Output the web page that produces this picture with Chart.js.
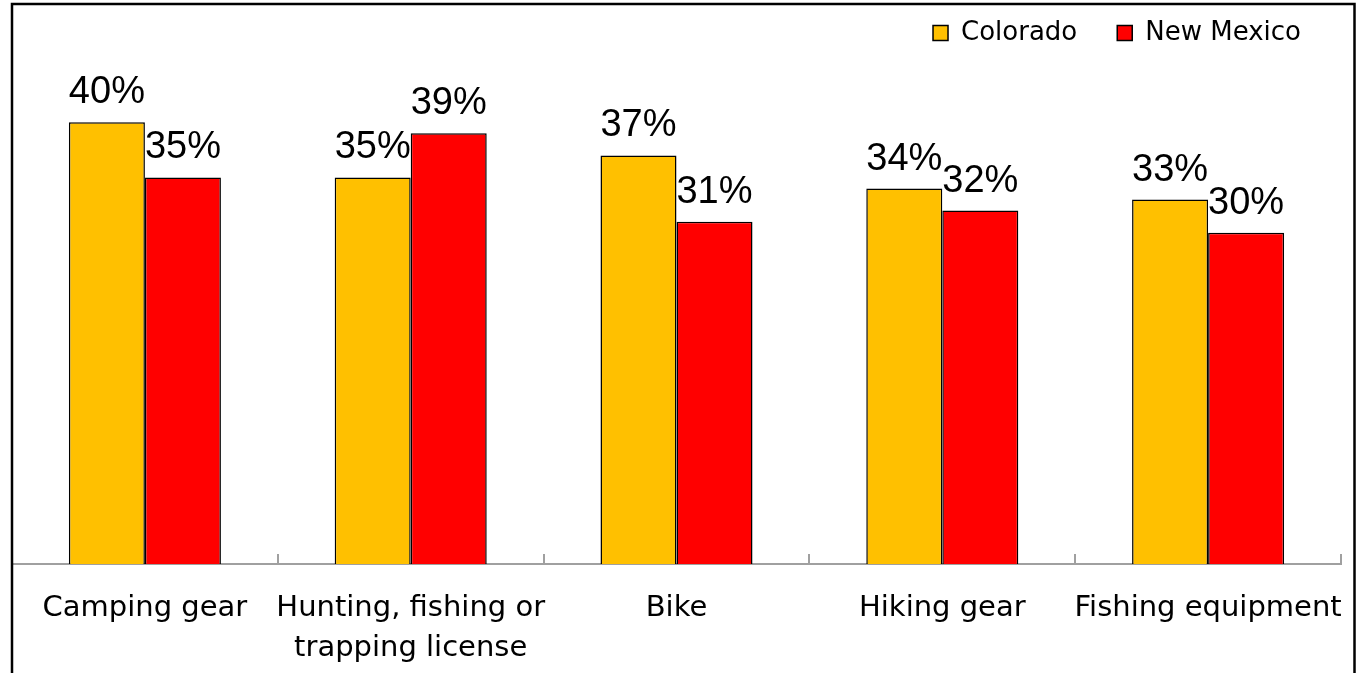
<!DOCTYPE html>
<html>
<head>
<meta charset="utf-8">
<script src="https://cdn.jsdelivr.net/npm/chart.js@4/dist/chart.umd.min.js"></script>
<style>
  html, body { margin: 0; padding: 0; background: #fff; }
  #wrap { width: 1359px; height: 673px; }
</style>
</head>
<body>
<div id="wrap"><canvas id="purchaseChart"></canvas></div>
<script>
const categories = ['Camping gear', ['Hunting, fishing or', 'trapping license'], 'Bike', 'Hiking gear', 'Fishing equipment'];
const colorado = [40, 35, 37, 34, 33];
const newMexico = [35, 39, 31, 32, 30];

const labelFont = 'DejaVu Sans';

// percent labels above each bar
const valueLabels = {
    id: 'valueLabels',
    afterDatasetsDraw(chart) {
        const ctx = chart.ctx;
        ctx.save();
        ctx.font = '38px "Liberation Sans", Arial, sans-serif';
        ctx.fillStyle = '#000';
        ctx.textAlign = 'center';
        ctx.textBaseline = 'alphabetic';
        chart.data.datasets.forEach((ds, i) => {
            chart.getDatasetMeta(i).data.forEach((bar, j) => {
                ctx.fillText(ds.data[j] + '%', bar.x, bar.y - 19);
            });
        });
        ctx.restore();
    }
};

// outer frame
const frame = {
    id: 'frame',
    afterDraw(chart) {
        const ctx = chart.ctx;
        ctx.save();
        ctx.strokeStyle = '#000';
        ctx.lineWidth = 2.5;
        ctx.strokeRect(12, 4, 1342.5, 720);
        ctx.restore();
    }
};

const ctxPurchase = document.getElementById('purchaseChart').getContext('2d');
new Chart(ctxPurchase, {
    type: 'bar',
    data: {
        labels: categories,
        datasets: [{
            label: 'Colorado',
            data: colorado,
            backgroundColor: '#FFC000',
            borderColor: '#000',
            borderWidth: 1.5
        }, {
            label: 'New Mexico',
            data: newMexico,
            backgroundColor: '#FF0000',
            borderColor: '#000',
            borderWidth: 1.5
        }]
    },
    options: {
        responsive: true,
        maintainAspectRatio: false,
        animation: false,
        layout: { padding: { left: 12, right: 18, top: -20, bottom: 0 } },
        datasets: { bar: { categoryPercentage: 0.572, barPercentage: 1 } },
        plugins: {
            legend: {
                position: 'top',
                align: 'end',
                labels: {
                    font: { family: labelFont, size: 26 },
                    color: '#000',
                    boxWidth: 15,
                    boxHeight: 15,
                    padding: 40
                }
            },
            tooltip: { enabled: false }
        },
        scales: {
            x: {
                afterFit(scale) {
                    scale.height = 109;
                    scale.paddingLeft = 0;
                    scale.paddingRight = 0;
                },
                grid: { drawOnChartArea: false, tickLength: -10, color: '#a0a0a0', lineWidth: 2 },
                border: { color: '#a0a0a0', width: 2 },
                ticks: {
                    color: '#000',
                    padding: 34,
                    font: { family: labelFont, size: 29, lineHeight: 1.38 },
                    maxRotation: 0,
                    autoSkip: false
                }
            },
            y: {
                display: false,
                min: 0,
                max: 46
            }
        }
    },
    plugins: [valueLabels, frame]
});
</script>
</body>
</html>
